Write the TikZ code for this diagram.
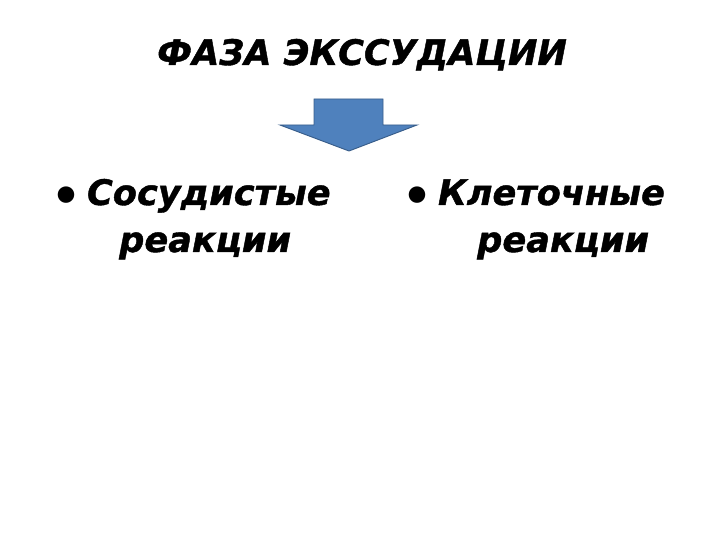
\documentclass[tikz,border=0pt]{standalone}
\usepackage{fontspec}
\setmainfont{DejaVu Sans}[BoldItalicFeatures={FakeBold=1.2}]
\usepackage{xcolor}
\usetikzlibrary{positioning}

\definecolor{arrowfill}{HTML}{4F81BD}
\definecolor{arrowline}{HTML}{385D8A}

\newcommand{\bigbullet}{{\upshape\raisebox{-6.5pt}{\fontsize{40}{40}\selectfont•}}\hspace{5pt}}

\tikzset{
  heading/.style={anchor=base, font=\fontsize{30}{36}\selectfont\bfseries\itshape},
  item/.style={anchor=base west, inner xsep=0pt, font=\fontsize{30}{36}\selectfont\bfseries\itshape},
}

\begin{document}
\begin{tikzpicture}[x=0.03cm,y=-0.03cm]
        \useasboundingbox (0,0) rectangle (720,540);

        \node[heading] (title) at (362,65) {ФАЗА ЭКССУДАЦИИ};

        % big arrow under the title
        \draw[fill=arrowfill, draw=arrowline, line width=0.8pt]
          (314,99) -- (383,99) -- (383,125) -- (417,125) -- (349,151)
          -- (280,125) -- (314,125) -- cycle;

        \node[item] (vasc) at (51,205) {\bigbullet Сосудистые};
        \node[item] (vascb) at (119,252) {реакции};
        \node[item] (cell) at (402,205) {\bigbullet Клеточные};
        \node[item] (cellb) at (477,252) {реакции};
\end{tikzpicture}
\end{document}
